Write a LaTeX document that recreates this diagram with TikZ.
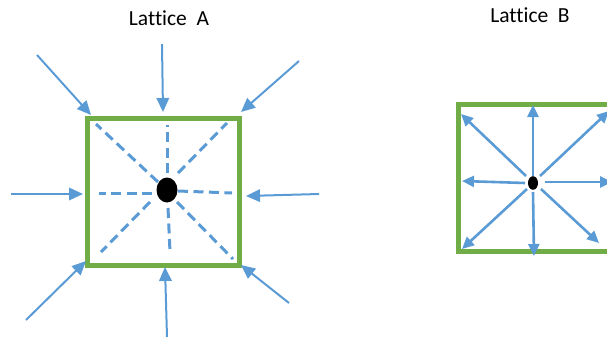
\documentclass[tikz,border=0pt]{standalone}
\usepackage{fontspec}
\setmainfont[Ligatures=NoCommon]{Carlito}
\usetikzlibrary{arrows.meta}
\definecolor{arrblue}{HTML}{5B9BD5}
\definecolor{boxgreen}{HTML}{70AD47}
\begin{document}
\begin{tikzpicture}[x=1pt,y=-1pt,
  title/.style={font=\fontsize{21.5}{24}\selectfont, inner sep=0pt, anchor=center},
  inarrow/.style={draw=arrblue, line width=2pt, -{Triangle[length=14pt,width=12.5pt]}},
  outarrow/.style={draw=arrblue, line width=2.6pt, -{Triangle[length=12pt,width=11pt]}},
  dashline/.style={draw=arrblue, line width=3pt, dash pattern=on 10pt off 5.5pt},
  latbox/.style={draw=boxgreen, line width=5pt}]
\useasboundingbox (0,0) rectangle (607,338);
\clip (0,0) rectangle (607,338);
% titles
\node[title] (tA) at (169,18.5) {Lattice\hspace{0.45em}A};
\node[title] (tB) at (530,15.5) {Lattice\hspace{0.45em}B};
% Lattice A
\draw[latbox] (87.5,118) rectangle (239,265);
\fill (167,190) ellipse [x radius=10.5, y radius=12.5];
\coordinate (a1s) at (37,55);  \coordinate (a1e) at (91,115);
\coordinate (a2s) at (162,44); \coordinate (a2e) at (163,112);
\coordinate (a3s) at (299,61); \coordinate (a3e) at (241,112);
\coordinate (a4s) at (11,194); \coordinate (a4e) at (83,194);
\coordinate (a5s) at (319,194);\coordinate (a5e) at (246,196);
\coordinate (a6s) at (26,320); \coordinate (a6e) at (86,261);
\coordinate (a7s) at (167,337);\coordinate (a7e) at (165,267);
\coordinate (a8s) at (289,303);\coordinate (a8e) at (241,265);
\foreach \i in {1,...,8} {\draw[inarrow] (a\i s) -- (a\i e);}
% dashed
\draw[dashline] (158,182) -- (96,124);
\draw[dashline] (167,173) -- (167,125);
\draw[dashline] (178,173) -- (227,123);
\draw[dashline] (152,193) -- (99,193);
\draw[dashline] (178,191) -- (232,193);
\draw[dashline] (150,202) -- (101,252);
\draw[dashline] (168,208) -- (170,252);
\draw[dashline] (177,202) -- (233,259);
% Lattice B
\draw[latbox] (458,104.5) rectangle (612,251);
\fill (533,183) ellipse [x radius=5, y radius=6.8];
\coordinate (b1s) at (533,176); \coordinate (b1e) at (533,105);
\coordinate (b2s) at (526,176); \coordinate (b2e) at (461,114);
\coordinate (b3s) at (540,176); \coordinate (b3e) at (609,111);
\coordinate (b4s) at (525,183); \coordinate (b4e) at (462,181);
\coordinate (b5s) at (545,182); \coordinate (b5e) at (612,182);
\coordinate (b6s) at (527,189); \coordinate (b6e) at (462,249);
\coordinate (b7s) at (533,192); \coordinate (b7e) at (534,256);
\coordinate (b8s) at (541,189); \coordinate (b8e) at (599,243);
\foreach \i in {1,...,8} {\draw[outarrow] (b\i s) -- (b\i e);}
\end{tikzpicture}
\end{document}
